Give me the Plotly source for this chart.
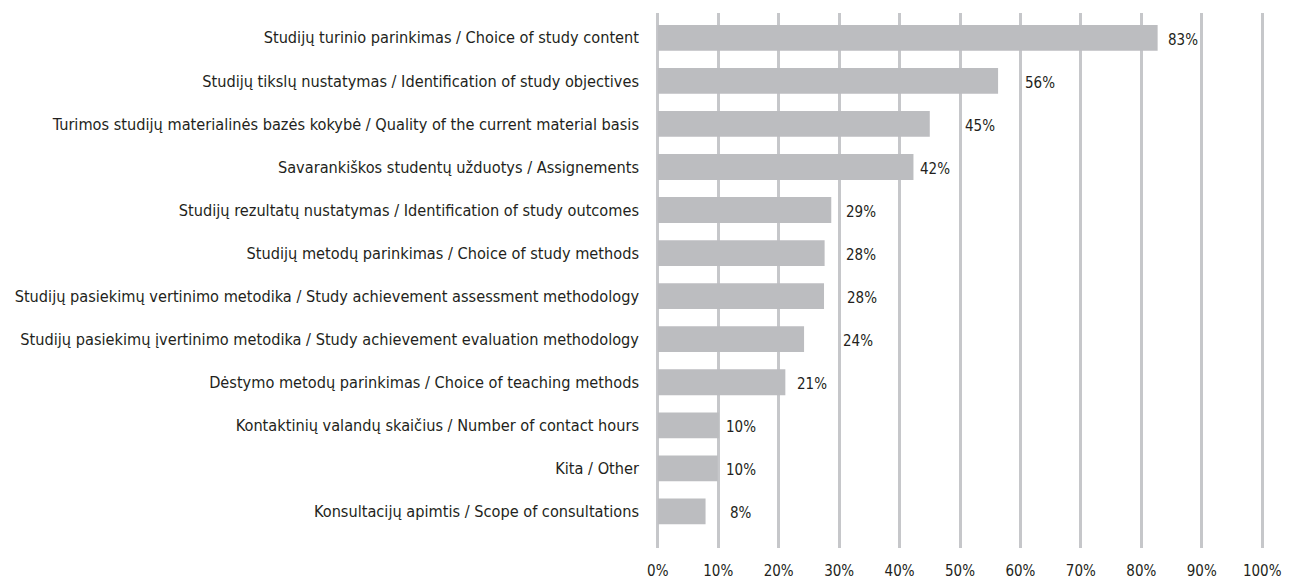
import plotly.graph_objects as go

categories = [
    "Studijų turinio parinkimas / Choice of study content",
    "Studijų tikslų nustatymas / Identification of study objectives",
    "Turimos studijų materialinės bazės kokybė / Quality of the current material basis",
    "Savarankiškos studentų užduotys / Assignements",
    "Studijų rezultatų nustatymas / Identification of study outcomes",
    "Studijų metodų parinkimas / Choice of study methods",
    "Studijų pasiekimų vertinimo metodika / Study achievement assessment methodology",
    "Studijų pasiekimų įvertinimo metodika / Study achievement evaluation methodology",
    "Dėstymo metodų parinkimas / Choice of teaching methods",
    "Kontaktinių valandų skaičius / Number of contact hours",
    "Kita / Other",
    "Konsultacijų apimtis / Scope of consultations",
]
values = [82.7, 56.3, 45.0, 42.3, 28.7, 27.6, 27.5, 24.2, 21.1, 10.1, 9.9, 7.9]
value_labels = ["83%", "56%", "45%", "42%", "29%", "28%", "28%", "24%", "21%", "10%", "10%", "8%"]
tick_vals = [0, 10, 20, 30, 40, 50, 60, 70, 80, 90, 100]
tick_text = ["0%", "10%", "20%", "30%", "40%", "50%", "60%", "70%", "80%", "90%", "100%"]

# pixel gap between bar end and its label (style only)
label_gap = [10, 27, 35, 7, 15, 21, 23, 39, 12, 7, 8, 24]

FONT = "DejaVu Sans Condensed, Liberation Sans Narrow, sans-serif"
TXT = "#231f20"

idx = list(range(len(categories)))

fig = go.Figure()
fig.add_trace(go.Bar(
    x=values, y=idx, orientation="h",
    marker=dict(color="#bcbdc0", line=dict(width=0)),
    width=0.6, hoverinfo="skip",
))

for i, (v, t, g) in enumerate(zip(values, value_labels, label_gap)):
    fig.add_annotation(x=v, y=i, text=t, showarrow=False, xanchor="left",
                       yanchor="middle", xshift=g - 2, yshift=-2,
                       font=dict(family=FONT, size=15, color=TXT))

fig.update_layout(
    width=1296, height=581,
    margin=dict(l=656, r=32, t=13, b=33),
    paper_bgcolor="white", plot_bgcolor="white",
    showlegend=False,
    bargap=0.4,
)
fig.update_xaxes(
    range=[-0.3, 100.3], tickvals=tick_vals, ticktext=tick_text,
    showgrid=True, gridcolor="#c6c7ca", gridwidth=2.5,
    zeroline=False, showline=False, ticks="",
    ticklabelstandoff=12, automargin=False,
    tickfont=dict(family=FONT, size=15, color=TXT),
)
fig.update_yaxes(
    range=[11.85, -0.576], tickvals=idx, ticktext=categories,
    showgrid=False, zeroline=False, showline=False, ticks="",
    ticklabelstandoff=16, automargin=False,
    tickfont=dict(family=FONT, size=16.2, color=TXT),
)

fig.write_html(
    "out.html",
    config={"displayModeBar": False},
    post_script="document.body.style.margin='0';document.body.style.overflow='hidden';",
)
